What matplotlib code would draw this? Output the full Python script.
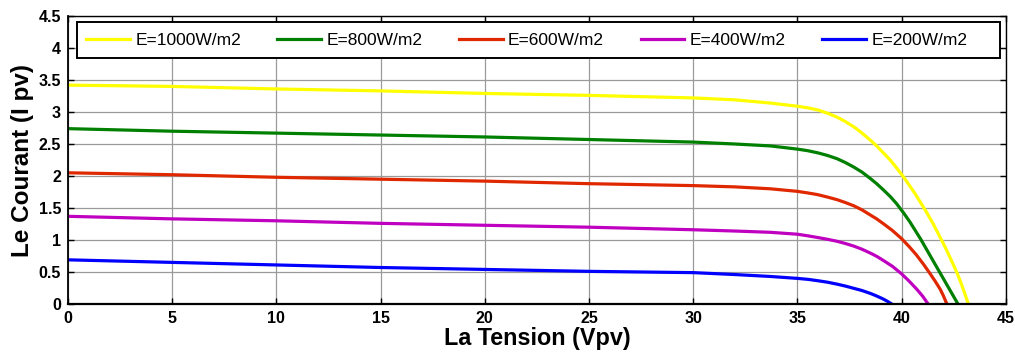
import matplotlib
matplotlib.use("Agg")
import matplotlib.pyplot as plt
from matplotlib.patches import Rectangle

plt.rcParams['font.family'] = ['Liberation Sans', 'DejaVu Sans']

labels = ["E=1000W/m2", "E=800W/m2", "E=600W/m2", "E=400W/m2", "E=200W/m2"]
colors = ["#FFFF00", "#008000", "#E02800", "#C000C0", "#0000FF"]

v_1000 = [0, 5, 10, 15, 20, 25, 30, 32, 33.7, 35, 35.5, 36.0, 36.45, 36.9, 37.3, 37.7, 38.1, 38.5, 38.8,
          39.1, 39.45, 39.75, 40.1, 40.4, 40.65, 40.9, 41.2, 41.5, 41.8, 42.1, 42.3, 42.5, 42.65, 42.8, 43.0, 43.2]
i_1000 = [3.42, 3.40, 3.36, 3.33, 3.29, 3.26, 3.22, 3.19, 3.14, 3.09, 3.065, 3.03, 2.98, 2.92, 2.85, 2.77, 2.67, 2.56, 2.47,
          2.37, 2.25, 2.13, 1.98, 1.84, 1.72, 1.59, 1.43, 1.26, 1.07, 0.88, 0.74, 0.60, 0.49, 0.37, 0.19, 0.0]

v_800 = [0, 5, 10, 15, 20, 25, 30, 32, 33.7, 35, 35.5, 36.0, 36.45, 36.9, 37.3, 37.7, 38.1, 38.5, 38.8,
         39.1, 39.45, 39.75, 40.1, 40.4, 40.65, 40.9, 41.2, 41.5, 41.8, 42.1, 42.4, 42.7]
i_800 = [2.74, 2.70, 2.67, 2.64, 2.61, 2.57, 2.53, 2.50, 2.47, 2.42, 2.395, 2.36, 2.32, 2.27, 2.21, 2.14, 2.06, 1.96, 1.88,
         1.79, 1.68, 1.57, 1.42, 1.28, 1.15, 1.02, 0.85, 0.68, 0.51, 0.34, 0.17, 0.0]

v_600 = [0, 5, 10, 15, 20, 25, 30, 32, 33.7, 35, 35.5, 35.95, 36.45, 36.9, 37.3, 37.7, 38.1, 38.5, 38.8,
         39.1, 39.55, 40.0, 40.35, 40.7, 41.05, 41.35, 41.6, 41.85, 42.0, 42.17]
i_600 = [2.05, 2.02, 1.98, 1.95, 1.92, 1.88, 1.85, 1.83, 1.80, 1.76, 1.735, 1.71, 1.67, 1.63, 1.585, 1.535, 1.47, 1.39, 1.33,
         1.26, 1.15, 1.02, 0.90, 0.77, 0.62, 0.48, 0.36, 0.23, 0.13, 0.0]

v_400 = [0, 5, 10, 15, 20, 25, 30, 32, 33.7, 35, 35.5, 35.95, 36.45, 36.9, 37.3, 37.7, 38.1, 38.5, 38.8,
         39.1, 39.55, 40.0, 40.35, 40.7, 41.0, 41.27]
i_400 = [1.37, 1.33, 1.30, 1.26, 1.23, 1.20, 1.16, 1.14, 1.12, 1.09, 1.065, 1.04, 1.01, 0.98, 0.945, 0.905, 0.855, 0.795, 0.745,
         0.685, 0.59, 0.47, 0.36, 0.24, 0.125, 0.0]

v_200 = [0, 5, 10, 15, 20, 25, 30, 32, 33.7, 35, 35.5, 35.95, 36.45, 36.9, 37.3, 37.7, 38.1, 38.5, 38.8,
         39.1, 39.3, 39.52]
i_200 = [0.69, 0.65, 0.61, 0.57, 0.54, 0.51, 0.49, 0.46, 0.43, 0.40, 0.385, 0.365, 0.34, 0.31, 0.28, 0.245, 0.21, 0.165, 0.125,
         0.08, 0.045, 0.0]

series = [(v_1000, i_1000), (v_800, i_800), (v_600, i_600), (v_400, i_400), (v_200, i_200)]

xticks = [0, 5, 10, 15, 20, 25, 30, 35, 40, 45]
yticks = [0, 0.5, 1, 1.5, 2, 2.5, 3, 3.5, 4, 4.5]
yticklabels = ["0", "0.5", "1", "1.5", "2", "2.5", "3", "3.5", "4", "4.5"]

fig = plt.figure(figsize=(10.15, 3.52), dpi=100)
ax = fig.add_axes([0.067, 0.1364, 0.924, 0.8181])

for (v, i), c, lab in zip(series, colors, labels):
    ax.plot(v, i, color=c, lw=2.3, label=lab, solid_joinstyle='round')

ax.set_xlim(0, 45)
ax.set_ylim(0, 4.5)
ax.set_xticks(xticks)
ax.set_yticks(yticks)
ax.set_xticklabels([str(t) for t in xticks])
ax.set_yticklabels(yticklabels)
ax.grid(True, color="#9a9a9a", lw=0.9)
ax.set_axisbelow(True)
ax.tick_params(direction='in', length=4, width=1, top=True, right=True,
               labelsize=11.5, pad=5)
for lbl in ax.get_xticklabels() + ax.get_yticklabels():
    lbl.set_fontweight('bold')
for s in ax.spines.values():
    s.set_linewidth(1.0)
ax.spines['bottom'].set_linewidth(1.6)
ax.spines['left'].set_linewidth(1.3)

ax.set_xlabel("La Tension (Vpv)", fontsize=16.8, fontweight='bold', labelpad=1)
ax.set_ylabel("Le Courant (I pv)", fontsize=17.5, fontweight='bold', labelpad=3)

# legend frame
ax.add_patch(Rectangle((0.0096, 0.854), 0.984, 0.125, transform=ax.transAxes,
                       facecolor='white', edgecolor='black', lw=1.4, zorder=4,
                       clip_on=False))
leg = ax.legend(loc='center left', bbox_to_anchor=(0.0192, 0.9167),
                ncol=5, fontsize=12.5, frameon=False,
                handlelength=2.53, handletextpad=0.3, columnspacing=2.1,
                borderaxespad=0, borderpad=0)
leg.set_zorder(5)

fig.savefig("out.png", dpi=100)
